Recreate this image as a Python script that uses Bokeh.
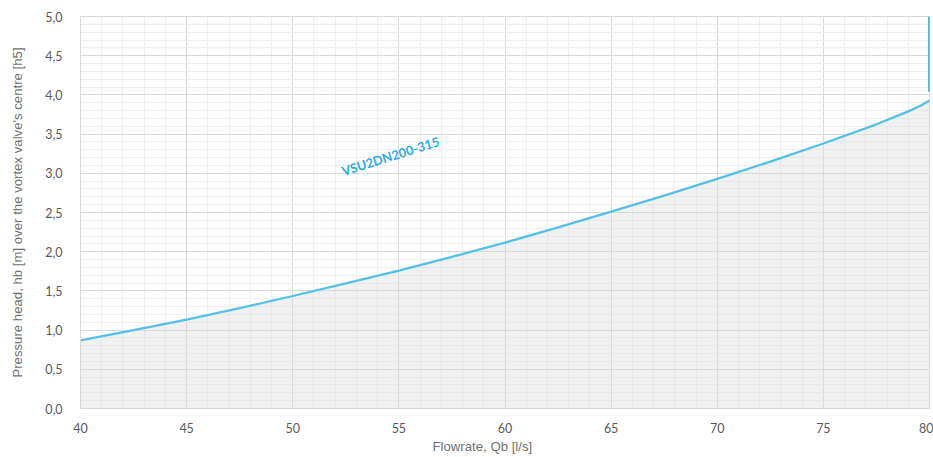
from bokeh.plotting import figure
from bokeh.models import Range1d, SingleIntervalTicker, CustomJSTickFormatter, ColumnDataSource, Title
from bokeh.core.properties import value
from bokeh.embed import file_html
from bokeh.resources import INLINE
import math

# Data
flow = [40, 42.5, 45, 47.5, 50, 52.5, 55, 57.5, 60, 62.5, 65, 67.5, 70, 72.5, 75, 77.5, 79, 79.6, 80]
head = [0.87, 1.00, 1.135, 1.28, 1.435, 1.595, 1.76, 1.935, 2.115, 2.31, 2.51, 2.715, 2.93, 3.15, 3.38, 3.625, 3.79, 3.865, 3.93]
cap_flow = [80, 80]
cap_head = [4.04, 5.0]
series_name = "VSU2DN200-315"
label_pos = (54.6, 3.22)
x_title = "Flowrate, Qb [l/s]"
y_title = "Pressure head, hb [m] over the vortex valve's centre [h5]"

p = figure(width=933, height=457, output_backend="svg", toolbar_location=None,
           x_range=Range1d(40, 80), y_range=Range1d(0, 5),
           min_border_left=80, min_border_right=4, min_border_top=16, min_border_bottom=49)
p.background_fill_color = "white"
p.border_fill_color = "white"
p.outline_line_color = "#d9d9d9"

src = ColumnDataSource(data=dict(x=flow, y=head, y0=[0] * len(flow)))
p.varea(x="x", y1="y0", y2="y", source=src, fill_color="#dcdcdc", fill_alpha=0.4)
p.line(x="x", y="y", source=src, line_color="#55c0e6", line_width=2.3)
p.line(x=cap_flow, y=cap_head, line_color="#1fa8de", line_width=2.6)

p.text(x=[label_pos[0]], y=[label_pos[1]], text=[series_name], angle=math.radians(17.4),
       text_align="center", text_baseline="middle", text_color="#2aaae0",
       text_font=value("Lato"), text_font_style="bold", text_font_size="12.8px")

p.xaxis.ticker = SingleIntervalTicker(interval=5, num_minor_ticks=5)
p.yaxis.ticker = SingleIntervalTicker(interval=0.5, num_minor_ticks=5)
p.yaxis.formatter = CustomJSTickFormatter(code="return tick.toFixed(1).replace('.', ',');")

for ax in (p.xaxis, p.yaxis):
    ax.axis_line_color = "#d9d9d9"
    ax.major_tick_line_color = None
    ax.minor_tick_line_color = None
    ax.major_label_text_color = "#595959"
    ax.major_label_text_font = "Lato"
    ax.major_label_text_font_size = "12.5px"
    ax.axis_label_text_color = "#707070"
    ax.axis_label_text_font = "Liberation Sans"
    ax.axis_label_text_font_size = "13.2px"
    ax.axis_label_text_font_style = "normal"

p.yaxis.axis_label = y_title
p.xaxis.major_label_standoff = 8
p.yaxis.major_label_standoff = 12
p.yaxis.axis_label_standoff = 17

# x-axis title, placed slightly left of centre as in the reference
p.add_layout(Title(text=x_title, align="left", offset=352, standoff=2,
                   text_color="#707070", text_font="Liberation Sans", text_font_size="13.2px",
                   text_font_style="normal"), "below")

p.grid.grid_line_color = "#d9d9d9"
p.grid.minor_grid_line_color = "#eeeeee"

open("out.html", "w").write(file_html(p, INLINE))
